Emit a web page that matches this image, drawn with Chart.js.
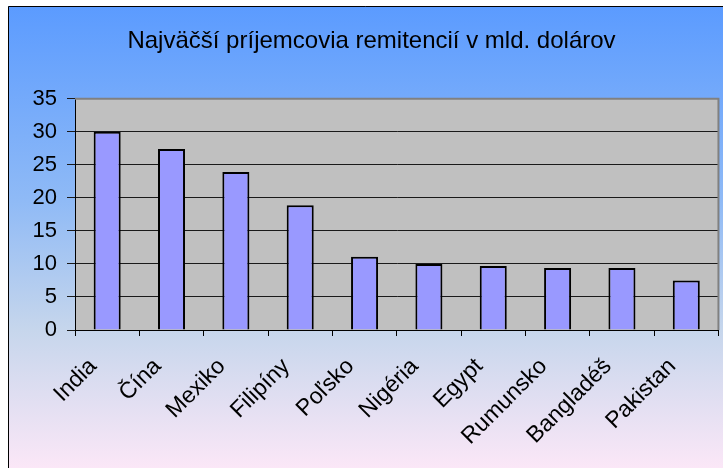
<!DOCTYPE html>
<html>
<head>
<meta charset="utf-8">
<script src="https://cdn.jsdelivr.net/npm/chart.js@4"></script>
<style>
  body { margin: 0; background: #fff; }
  #wrap { width: 723px; height: 468px; }
</style>
</head>
<body>
<div id="wrap"><canvas id="chart" width="723" height="468"></canvas></div>
<script>
var countries = ['India', 'Čína', 'Mexiko', 'Filipíny', 'Poľsko', 'Nigéria', 'Egypt', 'Rumunsko', 'Bangladéš', 'Pakistan'];
var remittances = [30.0, 27.4, 23.9, 18.9, 11.1, 10.0, 9.7, 9.4, 9.4, 7.5];
var yTicks = [0, 5, 10, 15, 20, 25, 30, 35];
var chartTitle = 'Najväčší príjemcovia remitencií v mld. dolárov';

// background gradient box + gray plot area
var backdrop = {
  id: 'backdrop',
  beforeDraw: function(chart) {
    var c = chart.ctx, a = chart.chartArea;
    c.save();
    c.fillStyle = '#fff';
    c.fillRect(0, 0, chart.width, chart.height);
    var g = c.createLinearGradient(0, 6, 0, chart.height);
    g.addColorStop(0, '#5b9bff');
    g.addColorStop(0.42, '#8fbaf6');
    g.addColorStop(0.7, '#c6d6ec');
    g.addColorStop(1, '#fbe7f7');
    c.fillStyle = g;
    c.fillRect(8, 6, chart.width - 8, chart.height - 6);
    c.strokeStyle = '#000';
    c.lineWidth = 1;
    c.beginPath();
    c.moveTo(8.5, chart.height);
    c.lineTo(8.5, 6.5);
    c.lineTo(chart.width, 6.5);
    c.stroke();
    c.fillStyle = '#c0c0c0';
    c.fillRect(a.left, a.top, a.right - a.left, a.bottom - a.top);
    c.restore();
  },
  afterDatasetsDraw: function(chart) {
    var c = chart.ctx, a = chart.chartArea;
    c.save();
    c.strokeStyle = '#808080';
    c.lineWidth = 2;
    c.beginPath();
    c.moveTo(a.left, a.top);
    c.lineTo(a.right, a.top);
    c.lineTo(a.right, a.bottom);
    c.stroke();
    c.restore();
  }
};

new Chart(document.getElementById('chart').getContext('2d'), {
  type: 'bar',
  data: {
    labels: countries,
    datasets: [{
      data: remittances,
      backgroundColor: '#9999ff',
      borderColor: '#000',
      borderWidth: 2,
      categoryPercentage: 1,
      barPercentage: 0.42
    }]
  },
  options: {
    responsive: false,
    animation: false,
    layout: { padding: { left: 24, top: 6, right: 4, bottom: 0 } },
    scales: {
      x: {
        grid: { display: true, drawOnChartArea: false, offset: true, color: '#000', tickLength: 6 },
        border: { color: '#000', width: 1 },
        ticks: {
          color: '#000',
          font: { family: 'Liberation Sans, Arial', size: 23 },
          minRotation: 45, maxRotation: 45,
          labelOffset: -14,
          padding: 17
        },
        afterFit: function(scale) { scale.height = 138; }
      },
      y: {
        min: 0, max: 35,
        afterBuildTicks: function(scale) {
          scale.ticks = yTicks.map(function(v) { return { value: v }; });
        },
        grid: { color: '#1a1a1a', tickLength: 8 },
        border: { color: '#000', width: 1 },
        ticks: {
          color: '#000',
          font: { family: 'Liberation Sans, Arial', size: 22 },
          padding: 10
        },
        afterFit: function(scale) { scale.width = 51; }
      }
    },
    plugins: {
      legend: { display: false },
      tooltip: { enabled: false },
      title: {
        display: true,
        text: chartTitle,
        color: '#000',
        font: { family: 'Liberation Sans, Arial', size: 24, weight: 'normal' },
        padding: { top: 21, bottom: 43 }
      }
    }
  },
  plugins: [backdrop]
});
</script>
</body>
</html>
